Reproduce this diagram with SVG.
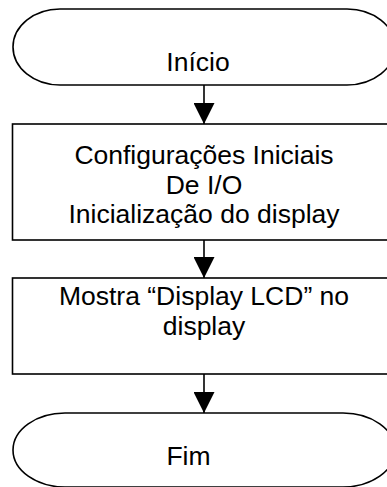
<svg xmlns="http://www.w3.org/2000/svg" width="387" height="487" viewBox="0 0 387 487">
<style>
.shape{fill:#fff;stroke:#000;stroke-width:1.6}
.lbl{font-family:"Liberation Sans",Arial,sans-serif;font-size:26.5px;fill:#000;text-anchor:middle}
.conn{stroke:#000;stroke-width:1.6;fill:none}
</style>
<defs>
<marker id="ah" viewBox="0 0 21 21" refX="21" refY="10.5" markerWidth="21" markerHeight="21" markerUnits="userSpaceOnUse" orient="auto">
<path d="M0,0 L21,10.5 L0,21 Z" fill="#000"/>
</marker>
</defs>
<g id="inicio">
<path class="shape" d="M60,9 H347 A48,38 0 0 1 347,85 H60 A47,38 0 0 1 60,9 Z"/>
<text class="lbl" x="198" y="71">Início</text>
</g>
<g id="config">
<rect class="shape" x="12.5" y="124" width="384" height="116"/>
<text class="lbl" x="204" y="163.5">Configurações Iniciais</text>
<text class="lbl" x="204" y="193.5">De I/O</text>
<text class="lbl" x="204" y="223">Inicialização do display</text>
</g>
<g id="mostra">
<rect class="shape" x="12.5" y="278" width="384" height="96"/>
<text class="lbl" x="204" y="305">Mostra “Display LCD” no</text>
<text class="lbl" x="204" y="335">display</text>
</g>
<g id="fim">
<path class="shape" d="M65,413 H343 A52,37 0 0 1 343,487 H65 A52,37 0 0 1 65,413 Z"/>
<text class="lbl" x="188.5" y="465">Fim</text>
</g>
<g id="connectors">
<line class="conn" x1="204" y1="85" x2="204" y2="124" marker-end="url(#ah)"/>
<line class="conn" x1="204" y1="240" x2="204" y2="278" marker-end="url(#ah)"/>
<line class="conn" x1="204" y1="374" x2="204" y2="413" marker-end="url(#ah)"/>
</g>
</svg>
